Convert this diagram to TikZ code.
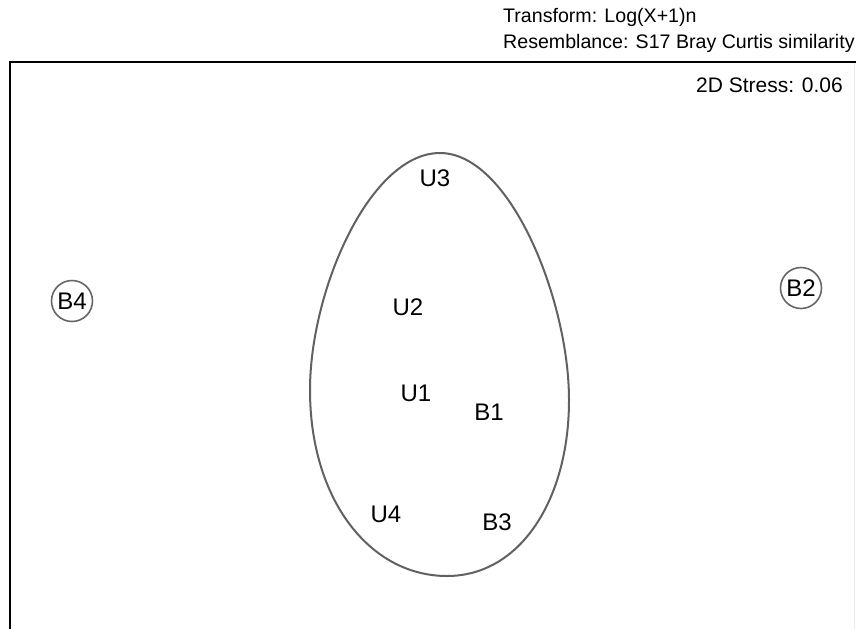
\documentclass[tikz,border=0pt]{standalone}
\usepackage{fontspec}
\setmainfont{Liberation Sans}
\usetikzlibrary{shapes}

\begin{document}
\begin{tikzpicture}[x=1pt, y=-1pt, font=\fontsize{24}{28}\selectfont]
\useasboundingbox (0,0) rectangle (856,629);
\node[anchor=west, inner sep=0pt, font=\fontsize{19.6}{23}\selectfont] (transform) at (503,17) {Transform: Log(X+1)n};
\node[anchor=west, inner sep=0pt, font=\fontsize{19.6}{23}\selectfont] (resemblance) at (503,43) {Resemblance: S17 Bray Curtis similarity};
% plot frame
\draw [line width=2pt, black] (856,62) -- (10,62) -- (10,629);
\draw [line width=0.6pt, black!8] (854,63) -- (854,629);
\node[anchor=east, inner sep=0pt, font=\fontsize{21}{25}\selectfont] (stress) at (843,85) {2D Stress: 0.06};
% samples
\foreach \name/\x/\y in {U3/435/178, U2/408/307, U1/416/393, B1/489/412, U4/386/514, B3/497/522} {
    \node[inner sep=0pt] (\name) at (\x,\y) {\name};
}
\node[circle, draw=black!60, line width=1.6pt, minimum size=41pt, inner sep=0pt] (B4) at (72,301) {B4};
\node[circle, draw=black!60, line width=1.6pt, minimum size=41pt, inner sep=0pt] (B2) at (801,288) {B2};
% cluster outline
\draw [line width=2pt, black!62] (440,153) .. controls (510,153) and (569,300) .. (569,400)
    .. controls (569,500) and (520,576) .. (447,576)
    .. controls (370,576) and (310,500) .. (310,390)
    .. controls (310,290) and (370,153) .. (440,153) -- cycle;
\end{tikzpicture}
\end{document}
